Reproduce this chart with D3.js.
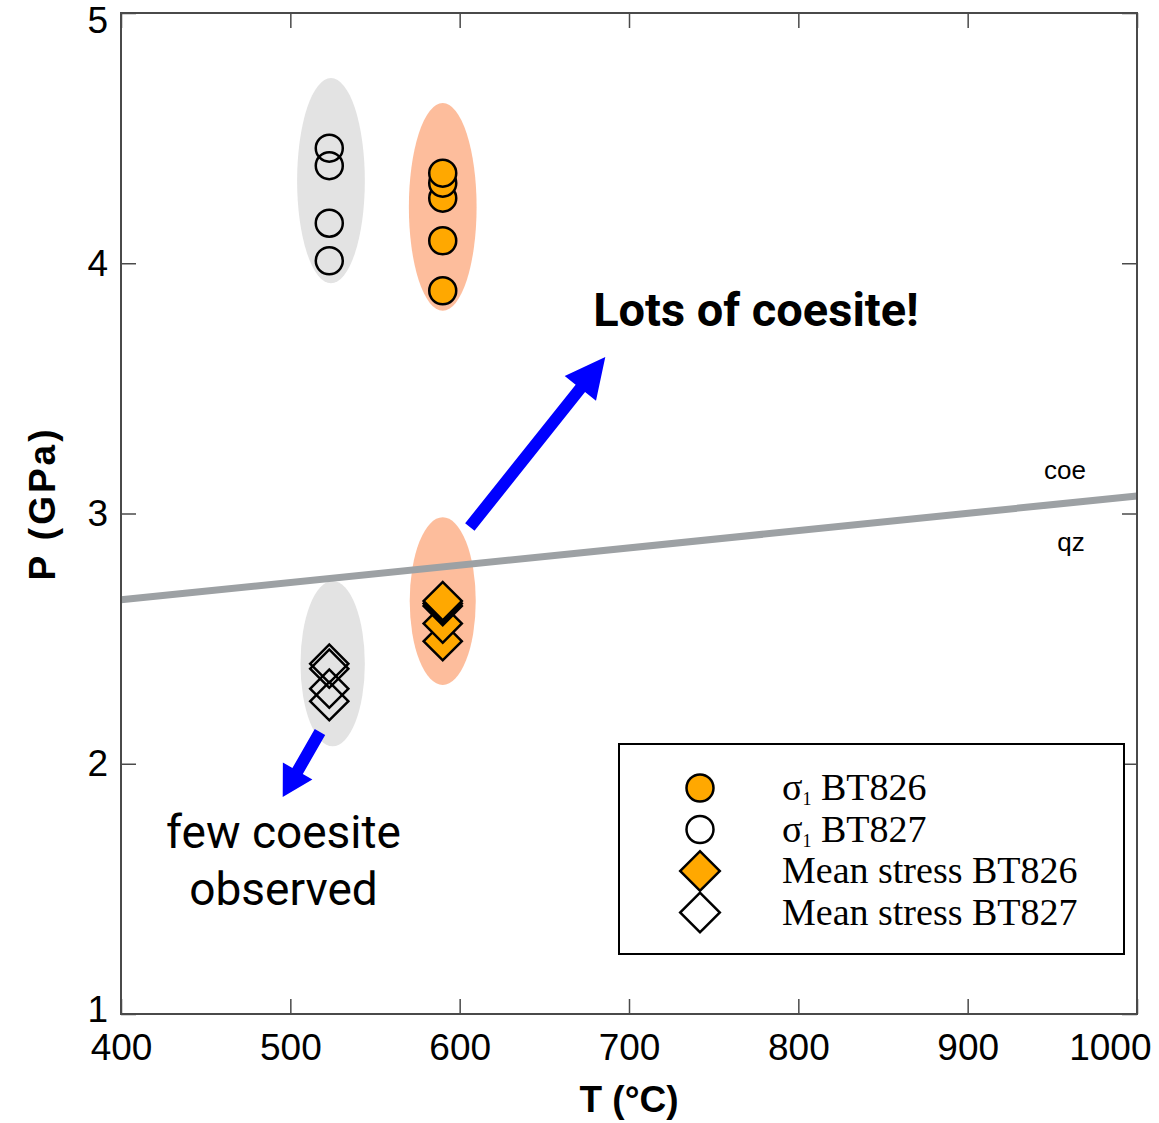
<!DOCTYPE html>
<html>
<head>
<meta charset="utf-8">
<title>P-T plot</title>
<script src="https://d3js.org/d3.v7.min.js"></script>
<style>
  body { margin: 0; background: #fff; }
</style>
</head>
<body>
<div id="my_dataviz"></div>
<script>
// ---- data ----
const xTicks = [400, 500, 600, 700, 800, 900, 1000];
const yTicks = [1, 2, 3, 4, 5];

// sigma1 estimates, [T degC, P GPa]
const sigmaBT826 = [[590, 3.89], [590, 4.09], [590, 4.26], [590, 4.32], [590, 4.36]];
const sigmaBT827 = [[523, 4.01], [523, 4.16], [523, 4.39], [523, 4.46]];
// mean stress estimates
const meanBT826 = [[590, 2.49], [590, 2.56], [590, 2.63], [590, 2.64], [590, 2.65]];
const meanBT827 = [[523, 2.25], [523, 2.30], [523, 2.38], [523, 2.40]];

// uncertainty ellipses: cx, cy, rx (degC), ry (GPa)
const ellipsesGrey = [[524, 4.33, 20, 0.41], [525, 2.40, 19, 0.33]];
const ellipsesOrange = [[590, 4.225, 20, 0.415], [590, 2.65, 19.5, 0.335]];

// coesite = quartz reaction line
const qzCoe = [[400, 2.655], [1000, 3.07]];

const legendLabels = ["BT826", "BT827", "Mean stress BT826", "Mean stress BT827"];

// ---- layout ----
const W = 1159, H = 1123;
const margin = {top: 13, right: 22, bottom: 109, left: 121};
const width = W - margin.left - margin.right,
      height = H - margin.top - margin.bottom;

const svg = d3.select("#my_dataviz")
  .append("svg")
    .attr("width", W)
    .attr("height", H)
  .append("g")
    .attr("transform", `translate(${margin.left},${margin.top})`);

const x = d3.scaleLinear().domain([400, 1000]).range([0, width]);
const y = d3.scaleLinear().domain([1, 5]).range([height, 0]);

const ORANGE = "#ffa800";
const axisFont = "Liberation Sans, Arial, sans-serif";
const noteFont = "Roboto, Inter, sans-serif";

// ellipses
svg.selectAll("ellipse.grey")
  .data(ellipsesGrey)
  .join("ellipse")
    .attr("cx", d => x(d[0]))
    .attr("cy", d => y(d[1]))
    .attr("rx", d => x(d[0] + d[2]) - x(d[0]))
    .attr("ry", d => y(d[1] - d[3]) - y(d[1]))
    .attr("fill", "#e3e3e3");

svg.selectAll("ellipse.orange")
  .data(ellipsesOrange)
  .join("ellipse")
    .attr("cx", d => x(d[0]))
    .attr("cy", d => y(d[1]))
    .attr("rx", d => x(d[0] + d[2]) - x(d[0]))
    .attr("ry", d => y(d[1] - d[3]) - y(d[1]))
    .attr("fill", "#fdbd9c");

// reaction line
svg.append("path")
  .datum(qzCoe)
  .attr("d", d3.line().x(d => x(d[0])).y(d => y(d[1])))
  .attr("stroke", "#9da1a4")
  .attr("stroke-width", 7)
  .attr("fill", "none");

svg.append("text")
  .attr("x", x(957.5)).attr("y", y(3.138))
  .attr("text-anchor", "middle")
  .style("font-family", axisFont).style("font-size", "26px")
  .text("coe");
svg.append("text")
  .attr("x", x(961)).attr("y", y(2.85))
  .attr("text-anchor", "middle")
  .style("font-family", axisFont).style("font-size", "26px")
  .text("qz");

// markers
const diamond = d3.symbol().type(d3.symbolSquare).size(27 * 27);

function circles(data, fill) {
  svg.append("g").selectAll("circle")
    .data(data)
    .join("circle")
      .attr("cx", d => x(d[0]))
      .attr("cy", d => y(d[1]))
      .attr("r", 13.5)
      .attr("fill", fill)
      .attr("stroke", "#000")
      .attr("stroke-width", 2.5);
}
function diamonds(data, fill) {
  svg.append("g").selectAll("path")
    .data(data)
    .join("path")
      .attr("d", diamond)
      .attr("transform", d => `translate(${x(d[0])},${y(d[1])}) rotate(45)`)
      .attr("fill", fill)
      .attr("stroke", "#000")
      .attr("stroke-width", 2.5);
}
circles(sigmaBT827, "none");
circles(sigmaBT826, ORANGE);
diamonds(meanBT827, "none");
diamonds(meanBT826, ORANGE);

// arrows
function arrow(t0, p0, t1, p1, shaft, headW, headL) {
  const x0 = x(t0), y0 = y(p0), x1 = x(t1), y1 = y(p1);
  const dx = x1 - x0, dy = y1 - y0, len = Math.hypot(dx, dy);
  const ux = dx / len, uy = dy / len, nx = -uy, ny = ux;
  const bx = x1 - ux * headL, by = y1 - uy * headL;
  const pts = [
    [x0 + nx * shaft / 2, y0 + ny * shaft / 2],
    [bx + nx * shaft / 2, by + ny * shaft / 2],
    [bx + nx * headW / 2, by + ny * headW / 2],
    [x1, y1],
    [bx - nx * headW / 2, by - ny * headW / 2],
    [bx - nx * shaft / 2, by - ny * shaft / 2],
    [x0 - nx * shaft / 2, y0 - ny * shaft / 2]
  ];
  svg.append("polygon")
    .attr("points", pts.map(p => p.join(",")).join(" "))
    .attr("fill", "#0000ff");
}
arrow(606, 2.946, 686, 3.625, 12, 40, 40);
arrow(517.5, 2.127, 495.5, 1.867, 12, 34, 30);

svg.append("text")
  .attr("x", x(775)).attr("y", y(3.749))
  .attr("text-anchor", "middle")
  .style("font-family", noteFont).style("font-size", "47px")
  .style("font-weight", "bold")
  .text("Lots of coesite!");

svg.append("text")
  .attr("x", x(496)).attr("y", y(1.663))
  .attr("text-anchor", "middle")
  .style("font-family", noteFont).style("font-size", "46px")
  .text("few coesite");
svg.append("text")
  .attr("x", x(496)).attr("y", y(1.436))
  .attr("text-anchor", "middle")
  .style("font-family", noteFont).style("font-size", "46px")
  .text("observed");

// frame and inward ticks
svg.append("rect")
  .attr("width", width).attr("height", height)
  .attr("fill", "none")
  .attr("stroke", "#4a4a4a")
  .attr("stroke-width", 2);

const tickLen = 15;
const styleAxis = g => {
  g.select(".domain").remove();
  g.selectAll(".tick line").attr("stroke", "#4a4a4a").attr("stroke-width", 1.5);
  g.selectAll("text").style("font-family", axisFont).style("font-size", "37px").attr("fill", "#000");
};
svg.append("g")
  .attr("transform", `translate(0,${height})`)
  .call(d3.axisBottom(x).tickValues(xTicks).tickFormat(d3.format("d"))
    .tickSizeInner(-tickLen).tickSizeOuter(0).tickPadding(20))
  .call(styleAxis)
  .selectAll("text")
    .filter(d => d === 1000)
    .attr("text-anchor", "end")
    .attr("x", 14);
svg.append("g")
  .call(d3.axisTop(x).tickValues(xTicks).tickSizeInner(-tickLen).tickSizeOuter(0).tickFormat(""))
  .call(styleAxis);
const yAx = svg.append("g")
  .call(d3.axisLeft(y).tickValues(yTicks).tickFormat(d3.format("d"))
    .tickSizeInner(-tickLen).tickSizeOuter(0).tickPadding(13))
  .call(styleAxis);
yAx.selectAll("text").filter(d => d === 5).attr("y", 8);
yAx.selectAll("text").filter(d => d === 1).attr("y", -4);
svg.append("g")
  .attr("transform", `translate(${width},0)`)
  .call(d3.axisRight(y).tickValues(yTicks).tickSizeInner(-tickLen).tickSizeOuter(0).tickFormat(""))
  .call(styleAxis);

// axis titles
svg.append("text")
  .attr("x", width / 2).attr("y", height + 98)
  .attr("text-anchor", "middle")
  .style("font-family", axisFont).style("font-size", "37px").style("font-weight", "bold")
  .text("T (°C)");
svg.append("text")
  .attr("transform", `translate(${-66},${y(3) - 10}) rotate(-90)`)
  .attr("text-anchor", "middle")
  .style("font-family", axisFont).style("font-size", "37px").style("font-weight", "bold")
  .style("letter-spacing", "3px")
  .text("P (GPa)");

// legend
const lg = svg.append("g").attr("transform", `translate(${619 - margin.left},${744 - margin.top})`);
lg.append("rect")
  .attr("width", 505).attr("height", 210)
  .attr("fill", "#fff")
  .attr("stroke", "#000")
  .attr("stroke-width", 2);
const legendSyms = [
  {shape: "circle", fill: ORANGE, sigma: true},
  {shape: "circle", fill: "#fff", sigma: true},
  {shape: "diamond", fill: ORANGE, sigma: false},
  {shape: "diamond", fill: "#fff", sigma: false}
];
legendSyms.forEach((s, i) => {
  const cy = 44 + i * 41.5;
  if (s.shape === "circle") {
    lg.append("circle").attr("cx", 81).attr("cy", cy).attr("r", 13.5)
      .attr("fill", s.fill).attr("stroke", "#000").attr("stroke-width", 2.5);
  } else {
    lg.append("path").attr("d", d3.symbol().type(d3.symbolSquare).size(28 * 28))
      .attr("transform", `translate(81,${cy}) rotate(45)`)
      .attr("fill", s.fill).attr("stroke", "#000").attr("stroke-width", 2.5);
  }
  const t = lg.append("text")
    .attr("x", 163).attr("y", cy + 12)
    .style("font-family", "Liberation Serif, Times New Roman, serif")
    .style("font-size", "38px");
  if (s.sigma) {
    t.append("tspan").text("σ");
    t.append("tspan").attr("dy", 5).style("font-size", "18px").text("1");
    t.append("tspan").attr("dy", -5).text(" " + legendLabels[i]);
  } else {
    t.text(legendLabels[i]);
  }
});
</script>
</body>
</html>
